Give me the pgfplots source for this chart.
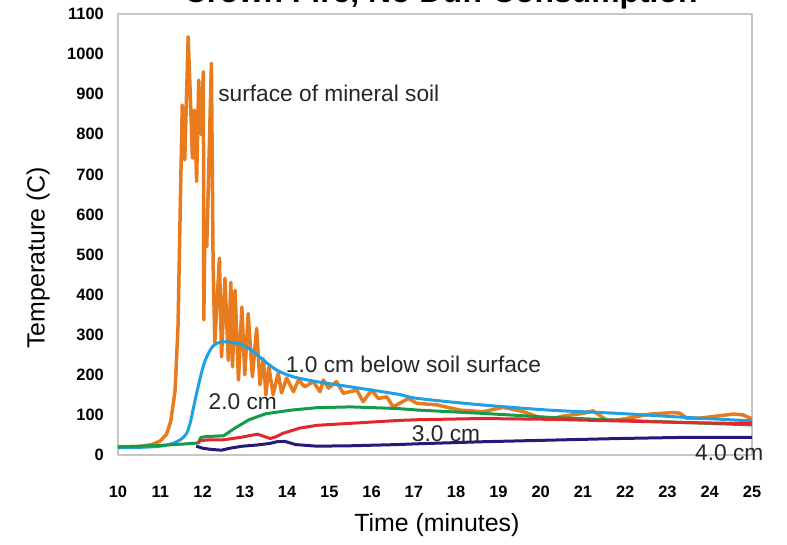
\documentclass[border=0pt]{standalone}
\usepackage{fontspec}
\setmainfont{Liberation Sans}
\usepackage{pgfplots}
\pgfplotsset{compat=1.18}

\definecolor{surfc}{RGB}{232,123,30}
\definecolor{onecm}{RGB}{30,160,225}
\definecolor{twocm}{RGB}{20,155,75}
\definecolor{threecm}{RGB}{225,40,45}
\definecolor{fourcm}{RGB}{40,25,120}
\definecolor{framegray}{RGB}{198,198,198}

\begin{document}
\begin{tikzpicture}
\path[use as bounding box] (-118bp,-90bp) rectangle (669bp,455bp);
\clip (-118bp,-90bp) rectangle (669bp,455bp);
\begin{axis}[
  at={(0bp,0bp)}, anchor=south west,
  scale only axis, width=634bp, height=441bp,
  xmin=10, xmax=25, ymin=0, ymax=1100,
  xtick={10,11,...,25}, ytick={0,100,...,1100},
  major tick length=0pt,
  clip mode=individual,
  axis line style={draw=framegray, line width=1.8bp},
  /pgf/number format/assume math mode=true,
  /pgf/number format/1000 sep={},
  ticklabel style={font=\bfseries\fontsize{16.5}{18}\selectfont, inner sep=0pt},
  yticklabel style={anchor=east, xshift=-14bp},
  xticklabel style={anchor=center, yshift=-36.7bp},
  xlabel={Time (minutes)},
  ylabel={Temperature (C)},
  label style={font=\fontsize{25}{28}\selectfont},
  xlabel style={at={(axis description cs:0.503,-0.159)}, anchor=center},
  ylabel style={at={(axis description cs:-0.126,0.447)}, anchor=center, rotate=0},
  title={\bfseries Crown Fire, No Duff Consumption},
  title style={font=\fontsize{32}{36}\selectfont, at={(axis description cs:0.509,1.0)}, anchor=base, yshift=6bp},
  line join=round,
]
% surface of mineral soil
\addplot[surfc, line width=3.5bp] coordinates {
(10,20) (10.5,21) (10.8,26) (11.0,35) (11.15,52) (11.25,85) (11.35,160) (11.42,320)
(11.47,600) (11.52,873) (11.58,736) (11.66,1043) (11.72,870) (11.76,740) (11.81,860)
(11.86,682) (11.91,935) (11.96,800) (12.02,956) (12.03,337) (12.06,586) (12.10,520)
(12.21,977) (12.25,478) (12.29,279) (12.40,491) (12.45,245) (12.53,441) (12.61,236)
(12.67,431) (12.71,220) (12.77,411) (12.85,187) (12.93,369) (13.00,200) (13.08,353)
(13.18,195) (13.28,316) (13.36,175) (13.44,240) (13.50,150) (13.57,220) (13.67,150)
(13.79,204) (13.87,155) (13.99,192) (14.15,158) (14.27,187) (14.42,170) (14.62,183)
(14.78,158) (14.86,187) (14.98,167) (15.17,183) (15.33,154) (15.49,158) (15.65,162)
(15.80,133) (16.00,162) (16.16,141) (16.36,145) (16.51,120) (16.87,141) (17.07,129)
(17.54,125) (18.09,112) (18.64,108) (19.12,119) (19.59,108) (19.91,96) (20.22,89)
(20.53,97) (21.01,104) (21.24,110) (21.56,87) (21.80,87) (22.19,94) (22.59,102)
(23.14,106) (23.30,104) (23.45,92) (23.77,92) (24.16,97) (24.56,102) (24.79,100) (25,90)
};
% 1.0 cm below the surface
\addplot[onecm, line width=3bp, smooth] coordinates {
(10,18) (10.5,19) (11.0,22) (11.3,29) (11.5,40) (11.63,55) (11.72,85) (11.8,125)
(11.9,172) (12.0,215) (12.1,245) (12.25,272) (12.45,282) (12.8,279) (13.1,266)
(13.4,240) (13.75,212) (14.15,195) (14.7,183) (15.5,170) (16.6,152) (17.1,141)
(18.6,125) (20.2,112) (21.8,104) (23.4,94) (25,85)
};
% 2.0 cm
\addplot[twocm, line width=3bp] coordinates {
(10,20) (11.0,24) (11.5,27) (11.9,30) (11.96,44) (12.1,46) (12.5,48) (12.75,66)
(13.1,88) (13.5,103) (14.1,112) (14.7,118) (15.5,120) (16.6,116) (17.1,112)
(18.6,104) (20.2,94) (21.8,87) (23.4,81) (25,75)
};
% 3.0 cm
\addplot[threecm, line width=3bp] coordinates {
(11.9,30) (11.95,36) (12.2,38) (12.5,38) (12.9,44) (13.3,52) (13.6,41) (13.75,46)
(13.9,54) (14.3,67) (14.7,74) (15.5,79) (16.6,86) (17.1,88) (18.6,91) (20.2,89)
(21.8,85) (23.4,81) (25,78)
};
% 4.0 cm
\addplot[fourcm, line width=3bp] coordinates {
(11.85,22) (12.0,17) (12.2,14) (12.45,12) (12.65,17) (12.95,22) (13.3,25) (13.6,29)
(13.75,33) (13.95,34) (14.2,26) (14.7,22) (15.5,23) (16.6,26) (17.1,28) (18.6,33)
(20.2,37) (21.8,41) (23.4,44) (25,44)
};
\begin{scope}[every node/.style={font=\fontsize{22.8}{26}\selectfont, anchor=west, inner sep=0pt, text=black!85}]
\node at (axis cs:12.37,903) {surface of mineral soil};
\node at (axis cs:13.97,226) {1.0 cm below soil surface};
\node at (axis cs:12.14,133) {2.0 cm};
\node at (axis cs:16.95,52) {3.0 cm};
\node at (axis cs:23.65,7) {4.0 cm};
\end{scope}
\end{axis}
\end{tikzpicture}
\end{document}
